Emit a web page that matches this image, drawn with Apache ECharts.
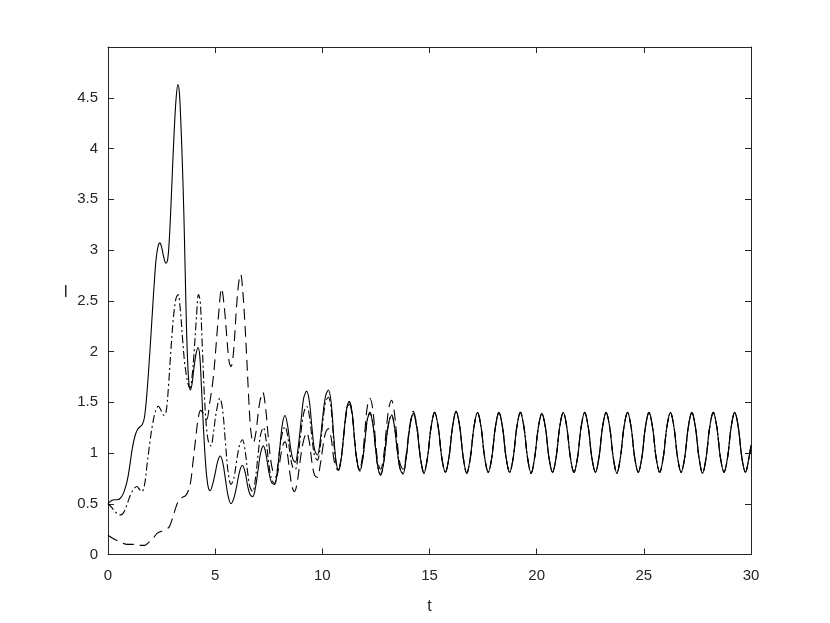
<!DOCTYPE html>
<html><head><meta charset="utf-8">
<script src="https://cdn.jsdelivr.net/npm/echarts@6/dist/echarts.min.js"></script>
<style>html,body{margin:0;padding:0;background:#fff}#c{width:830px;height:623px}</style>
</head><body><div id="c"></div>
<script>
// x-axis ticks and y-axis ticks
const xTicks = [0, 5, 10, 15, 20, 25, 30];
const yTicks = [0, 0.5, 1, 1.5, 2, 2.5, 3, 3.5, 4, 4.5];

// solid curve (t, I) before the common periodic regime
const solidHead = [[0,0.50],[0.15,0.53],[0.3,0.54],[0.45,0.54],[0.6,0.56],[0.75,0.62],[0.9,0.73],[1.02,0.88],[1.13,1.04],[1.25,1.16],[1.37,1.23],[1.5,1.26],[1.6,1.28],[1.7,1.35],[1.8,1.55],[1.9,1.83],[2.0,2.15],[2.08,2.42],[2.16,2.68],[2.24,2.9],[2.33,3.03],[2.42,3.07],[2.5,3.03],[2.6,2.93],[2.7,2.87],[2.78,2.9],[2.86,3.1],[2.95,3.5],[3.02,3.85],[3.1,4.22],[3.18,4.5],[3.26,4.63],[3.33,4.55],[3.4,4.25],[3.47,3.85],[3.54,3.35],[3.6,2.8],[3.66,2.25],[3.72,1.88],[3.78,1.68],[3.84,1.62],[3.92,1.68],[4.0,1.82],[4.1,1.97],[4.2,2.04],[4.28,1.96],[4.36,1.65],[4.44,1.3],[4.52,1.0],[4.6,0.78],[4.68,0.66],[4.77,0.63],[4.88,0.69],[5.0,0.8],[5.12,0.92],[5.24,0.97],[5.36,0.9],[5.48,0.74],[5.6,0.58],[5.74,0.5],[5.88,0.56],[6.0,0.67],[6.14,0.82],[6.27,0.88],[6.4,0.81],[6.52,0.67],[6.63,0.59],[6.75,0.57],[6.88,0.66],[7.0,0.83],[7.12,1.0],[7.25,1.07],[7.37,0.99],[7.5,0.82],[7.63,0.71],[7.77,0.69],[7.9,0.82],[8.02,1.06],[8.14,1.29],[8.26,1.37],[8.38,1.27],[8.5,1.08],[8.62,0.94],[8.74,0.91],[8.87,1.05],[9.0,1.3],[9.13,1.54],[9.27,1.61],[9.4,1.5],[9.52,1.24],[9.64,1.03],[9.77,0.98],[9.9,1.12],[10.02,1.36],[10.15,1.56],[10.28,1.62],[10.41,1.5],[10.53,1.17],[10.64,0.92],[10.75,0.83],[10.88,0.94],[11.0,1.18],[11.13,1.43],[11.26,1.51],[11.39,1.4],[11.51,1.12],[11.63,0.9],[11.76,0.83],[11.89,0.95],[12.0,1.15],[12.1,1.33],[12.22,1.39],[12.36,1.28],[12.48,1.05],[12.6,0.85],[12.72,0.78],[12.86,0.9],[12.98,1.12],[13.1,1.3],[13.23,1.37],[13.36,1.27],[13.5,1.02],[13.62,0.85],[13.76,0.79],[13.91,0.95],[14.07,1.24],[14.24,1.39],[14.41,1.25],[14.57,0.96],[14.74,0.80],[14.91,0.96]];

// dash-dot curve
const dashDotHead = [[0,0.50],[0.15,0.47],[0.3,0.43],[0.45,0.40],[0.6,0.39],[0.72,0.41],[0.85,0.47],[0.98,0.55],[1.1,0.61],[1.22,0.65],[1.35,0.67],[1.47,0.64],[1.58,0.62],[1.7,0.68],[1.82,0.88],[1.95,1.1],[2.07,1.27],[2.2,1.4],[2.35,1.46],[2.5,1.41],[2.62,1.37],[2.72,1.42],[2.82,1.65],[2.93,2.0],[3.05,2.33],[3.17,2.52],[3.27,2.56],[3.37,2.42],[3.47,2.15],[3.57,1.9],[3.67,1.75],[3.75,1.67],[3.83,1.64],[3.92,1.75],[4.02,2.0],[4.13,2.35],[4.22,2.56],[4.3,2.5],[4.4,2.05],[4.5,1.55],[4.6,1.24],[4.7,1.1],[4.8,1.07],[4.92,1.2],[5.05,1.4],[5.22,1.54],[5.35,1.42],[5.48,1.1],[5.6,0.82],[5.74,0.69],[5.88,0.76],[6.0,0.92],[6.14,1.08],[6.27,1.13],[6.4,1.02],[6.52,0.8],[6.63,0.66],[6.75,0.62],[6.88,0.75],[7.0,0.98],[7.12,1.18],[7.25,1.25],[7.38,1.12],[7.5,0.9],[7.63,0.74],[7.77,0.70],[7.9,0.84],[8.02,1.05],[8.14,1.2],[8.26,1.26],[8.38,1.17],[8.5,0.98],[8.62,0.86],[8.74,0.84],[8.87,0.98],[9.0,1.2],[9.14,1.4],[9.27,1.46],[9.4,1.36],[9.52,1.14],[9.64,0.97],[9.77,0.93],[9.9,1.06],[10.02,1.3],[10.15,1.5],[10.28,1.55],[10.41,1.44],[10.53,1.12],[10.64,0.9],[10.75,0.84],[10.88,0.95],[11.0,1.18],[11.13,1.42],[11.26,1.5],[11.39,1.39],[11.51,1.11],[11.63,0.89],[11.76,0.82],[11.89,0.95],[12.0,1.15],[12.1,1.33],[12.22,1.40],[12.36,1.29],[12.48,1.05],[12.6,0.85],[12.72,0.79],[12.86,0.9],[12.98,1.12],[13.1,1.3],[13.23,1.38],[13.36,1.27],[13.5,1.02],[13.62,0.85],[13.76,0.80],[13.91,0.95],[14.07,1.24],[14.24,1.39],[14.41,1.25],[14.57,0.96],[14.74,0.80],[14.91,0.96]];

// dashed curve
const dashedHead = [[0,0.19],[0.3,0.15],[0.6,0.12],[0.9,0.10],[1.2,0.10],[1.5,0.09],[1.7,0.09],[1.9,0.12],[2.07,0.15],[2.3,0.21],[2.5,0.23],[2.7,0.25],[2.85,0.27],[3.0,0.35],[3.16,0.46],[3.3,0.53],[3.45,0.56],[3.62,0.58],[3.75,0.63],[3.86,0.72],[3.97,0.92],[4.09,1.14],[4.2,1.33],[4.32,1.42],[4.45,1.39],[4.6,1.33],[4.75,1.5],[4.9,1.72],[5.02,2.0],[5.15,2.34],[5.3,2.62],[5.42,2.45],[5.54,2.15],[5.65,1.9],[5.74,1.85],[5.85,1.98],[6.0,2.45],[6.1,2.68],[6.19,2.76],[6.28,2.62],[6.38,2.3],[6.47,1.95],[6.55,1.6],[6.63,1.3],[6.7,1.16],[6.78,1.1],[6.9,1.2],[7.0,1.38],[7.1,1.52],[7.22,1.6],[7.35,1.45],[7.48,1.15],[7.6,0.92],[7.72,0.8],[7.84,0.76],[7.96,0.85],[8.08,1.0],[8.18,1.09],[8.27,1.11],[8.38,0.98],[8.5,0.78],[8.6,0.66],[8.7,0.62],[8.82,0.7],[8.95,0.9],[9.1,1.1],[9.27,1.2],[9.4,1.1],[9.52,0.9],[9.64,0.78],[9.77,0.76],[9.9,0.88],[10.02,1.05],[10.15,1.2],[10.28,1.24],[10.41,1.15],[10.53,0.95],[10.64,0.85],[10.75,0.83],[10.88,0.95],[11.0,1.17],[11.13,1.4],[11.26,1.48],[11.39,1.38],[11.51,1.12],[11.63,0.92],[11.76,0.86],[11.89,1.0],[12.0,1.25],[12.1,1.46],[12.22,1.54],[12.36,1.42],[12.48,1.12],[12.6,0.9],[12.72,0.84],[12.86,0.97],[12.98,1.22],[13.1,1.44],[13.23,1.52],[13.36,1.4],[13.5,1.1],[13.62,0.9],[13.76,0.84],[13.91,0.98],[14.07,1.26],[14.24,1.41],[14.41,1.27],[14.57,0.97],[14.74,0.81],[14.91,0.96]];

// common periodic regime (all three curves overlap)
const tailT = [15.07,15.24,15.41,15.57,15.74,15.91, 16.07,16.24,16.41,16.57,16.74,16.91, 17.07,17.24,17.41,17.57,17.74,17.91, 18.07,18.24,18.41,18.57,18.74,18.91, 19.07,19.24,19.41,19.57,19.74,19.91, 20.07,20.24,20.41,20.57,20.74,20.91, 21.07,21.24,21.41,21.57,21.74,21.91, 22.07,22.24,22.41,22.57,22.74,22.91, 23.07,23.24,23.41,23.57,23.74,23.91, 24.07,24.24,24.41,24.57,24.74,24.91, 25.07,25.24,25.41,25.57,25.74,25.91, 26.07,26.24,26.41,26.57,26.74,26.91, 27.07,27.24,27.41,27.57,27.74,27.91, 28.07,28.24,28.41,28.57,28.74,28.91, 29.07,29.24,29.41,29.57,29.74,29.91, 30.0];
const tailI = [1.25,1.40,1.25,0.96,0.81,0.96, 1.25,1.41,1.26,0.96,0.80,0.96, 1.25,1.40,1.25,0.96,0.81,0.96, 1.25,1.40,1.25,0.96,0.81,0.96, 1.25,1.40,1.25,0.96,0.80,0.96, 1.24,1.39,1.25,0.96,0.81,0.96, 1.25,1.40,1.25,0.96,0.81,0.96, 1.25,1.40,1.25,0.96,0.81,0.96, 1.25,1.40,1.25,0.96,0.80,0.96, 1.25,1.40,1.25,0.96,0.81,0.96, 1.25,1.40,1.25,0.96,0.81,0.96, 1.25,1.40,1.25,0.96,0.81,0.96, 1.25,1.40,1.25,0.96,0.80,0.96, 1.25,1.40,1.25,0.96,0.81,0.96, 1.25,1.40,1.25,0.96,0.81,0.96, 1.08];

const tail = tailT.map((t, i) => [t, tailI[i]]);
const AX = '#262626';
const FONT = 'Liberation Sans, Arial, Helvetica, sans-serif';

const chart = echarts.init(document.getElementById('c'), null, {renderer: 'canvas'});
const baseLine = {type: 'line', showSymbol: false, smooth: 0.35, animation: false, clip: true};
const frameAxis = {
  axisLine: {show: true, onZero: false, lineStyle: {color: AX, width: 1}},
  axisTick: {show: true, inside: true, length: 6, lineStyle: {color: AX}},
  splitLine: {show: false}
};
chart.setOption({
  backgroundColor: '#fff',
  animation: false,
  grid: {left: 108, right: 79, top: 47, bottom: 68.5, containLabel: false},
  xAxis: [Object.assign({}, frameAxis, {
    type: 'value', position: 'bottom', min: xTicks[0], max: xTicks[xTicks.length - 1], interval: 5,
    name: 't', nameLocation: 'middle', nameGap: 44,
    nameTextStyle: {color: AX, fontSize: 16, fontFamily: FONT},
    axisLabel: {color: AX, fontSize: 15, fontFamily: FONT, margin: 14}
  }), Object.assign({}, frameAxis, {
    type: 'value', position: 'top', min: 0, max: 30, interval: 5,
    axisLabel: {show: false}
  })],
  yAxis: [Object.assign({}, frameAxis, {
    type: 'value', position: 'left', min: 0, max: 5, interval: 0.5,
    name: 'I', nameLocation: 'middle', nameGap: 40, nameRotate: 0,
    nameTextStyle: {color: AX, fontSize: 16, fontFamily: FONT, verticalAlign: 'bottom'},
    axisLabel: {color: AX, fontSize: 15, fontFamily: FONT, margin: 10,
      formatter: v => (yTicks.indexOf(v) >= 0 ? String(v) : '')}
  }), Object.assign({}, frameAxis, {
    type: 'value', position: 'right', min: 0, max: 5, interval: 0.5,
    axisLabel: {show: false}
  })],
  series: [
    Object.assign({}, baseLine, {name: 'solid', data: solidHead.concat(tail),
      lineStyle: {color: '#000', width: 1.1, type: 'solid'}}),
    Object.assign({}, baseLine, {name: 'dashdot', data: dashDotHead.concat(tail),
      lineStyle: {color: '#000', width: 1.1, type: [8, 3, 2, 3]}}),
    Object.assign({}, baseLine, {name: 'dashed', data: dashedHead.concat(tail),
      lineStyle: {color: '#000', width: 1.1, type: [11, 6]}})
  ]
});
</script></body></html>
